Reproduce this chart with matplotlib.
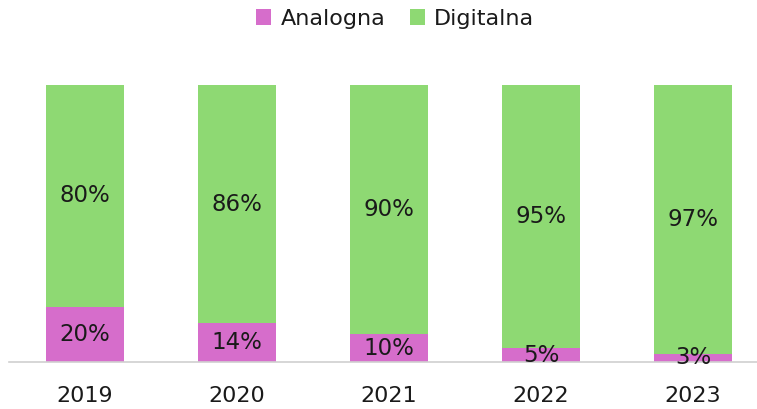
import matplotlib
matplotlib.use("Agg")
import matplotlib.pyplot as plt
from matplotlib.patches import Patch

years = ["2019", "2020", "2021", "2022", "2023"]
analogna = [20, 14, 10, 5, 3]
digitalna = [80, 86, 90, 95, 97]
series_names = ["Analogna", "Digitalna"]
c_ana = "#D66DCB"
c_dig = "#8ED973"

plt.rcParams['font.family'] = ['DejaVu Sans']
W, H = 757, 409
fig = plt.figure(figsize=(W/100, H/100), dpi=100)
left = 9 / W
right = 769 / W
bottom = 1 - 362 / H
top = 1 - 85 / H
ax = fig.add_axes([left, bottom, right - left, top - bottom])

x = list(range(len(years)))
bw = 0.51
ax.bar(x, analogna, width=bw, color=c_ana, zorder=2)
ax.bar(x, digitalna, width=bw, bottom=analogna, color=c_dig, zorder=2)

fs = 16.5
for i in x:
    ax.text(i, analogna[i] / 2, f"{analogna[i]}%", ha="center", va="center",
            fontsize=fs, color="#1a1a1a", zorder=3)
    ax.text(i, analogna[i] + digitalna[i] / 2, f"{digitalna[i]}%", ha="center",
            va="center", fontsize=fs, color="#1a1a1a", zorder=3)

ax.set_xlim(-0.5, 4.5)
ax.set_ylim(0, 100)
ax.set_xticks(x)
ax.set_xticklabels(years, fontsize=16, color="#1a1a1a")
ax.tick_params(axis="x", length=0, pad=17)
ax.set_yticks([])
for s in ["top", "right", "left"]:
    ax.spines[s].set_visible(False)
ax.spines["bottom"].set_color("#d0d0d0")
ax.spines["bottom"].set_linewidth(1.2)

handles = [Patch(facecolor=c_ana), Patch(facecolor=c_dig)]
fig.legend(handles, series_names, loc="center", bbox_to_anchor=(395 / W, 1 - 19 / H),
           ncol=2, frameon=False, fontsize=16, handlelength=0.7, handleheight=0.7,
           handletextpad=0.4, columnspacing=1.1, labelcolor="#1a1a1a")

fig.savefig("out.png", dpi=100)
